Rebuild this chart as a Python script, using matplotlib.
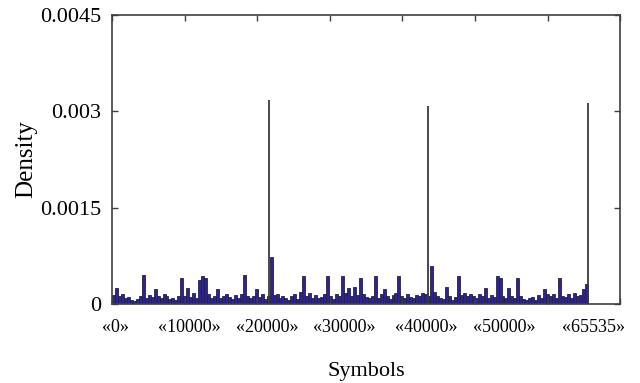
import numpy as np
import matplotlib
matplotlib.use("Agg")
import matplotlib.pyplot as plt

plt.rcParams['font.family'] = ['Liberation Serif', 'DejaVu Serif']

# histogram of symbols (density, in units of 1e-4), 160 bins over 0..65535
heights = [
    1.4, 2.5, 1.2, 1.5, 0.9, 1.1, 0.7, 0.5, 0.8, 1.3,
    4.6, 1.0, 1.4, 1.1, 2.4, 1.3, 0.9, 1.6, 1.2, 0.8,
    1.0, 0.6, 1.3, 4.1, 1.2, 2.5, 1.1, 1.7, 1.0, 3.8,
    4.4, 4.1, 1.5, 1.0, 1.3, 2.4, 0.9, 1.2, 1.6, 1.1,
    0.8, 1.4, 1.0, 1.5, 4.6, 1.2, 0.9, 1.3, 2.4, 1.1,
    1.5, 0.8, 1.2, 7.3, 1.4, 1.6, 0.9, 1.3, 1.0, 0.7,
    1.2, 1.5, 0.8, 1.9, 4.4, 1.3, 1.7, 1.0, 1.4, 0.9,
    1.1, 1.6, 4.4, 1.2, 0.8, 1.5, 1.3, 4.4, 1.8, 2.5,
    1.2, 2.7, 1.4, 4.0, 1.6, 1.1, 0.9, 1.3, 4.4, 1.0,
    1.5, 2.3, 1.2, 0.8, 1.4, 1.7, 4.4, 1.3, 1.0, 1.6,
    1.1, 0.9, 1.4, 1.2, 1.8, 1.5, 1.3, 6.0, 1.9, 1.2,
    1.0, 0.8, 2.7, 1.3, 0.7, 1.1, 4.4, 1.4, 1.7, 1.2,
    1.6, 1.3, 1.0, 1.5, 1.2, 2.5, 0.9, 1.4, 1.1, 4.4,
    4.0, 1.3, 1.0, 2.5, 1.2, 0.9, 4.0, 1.3, 0.8, 0.6,
    0.9, 1.1, 0.7, 1.4, 1.0, 2.3, 1.5, 1.2, 1.6, 1.0,
    4.0, 1.3, 1.1, 1.5, 0.9, 1.7, 1.2, 1.4, 2.3, 3.2,
]

# the three single symbols with a high density
spike_x = [21680, 43490, 65535]
spike_y = [0.00317, 0.00308, 0.00313]

ytick_vals = [0, 0.0015, 0.003, 0.0045]
ytick_labels = ['0', '0.0015', '0.003', '0.0045']
sym_labels = ['«0»', '«10000»', '«20000»', '«30000»', '«40000»', '«50000»', '«65535»']
sym_pos = [500, 10600, 21400, 32000, 43300, 54100, 66300]

heights = np.array(heights) * 1e-4
edges = np.linspace(0, 65536, len(heights) + 1)

fig = plt.figure(figsize=(6.4, 3.83), dpi=100)
ax = fig.add_axes([0.175, 0.206, 0.794, 0.755])

ax.bar(edges[:-1], heights, width=np.diff(edges), align='edge',
       color='#2f238f', edgecolor='#222244', linewidth=0.6)
ax.vlines(spike_x, 0, spike_y, color='#3a3a3a', linewidth=1.3)

ax.set_xlim(0, 70000)
ax.set_ylim(0, 0.0045)
ax.set_xticks(np.arange(0, 70001, 10000))
ax.set_xticklabels([])
ax.set_yticks(ytick_vals)
ax.set_yticklabels(ytick_labels, fontsize=16)
ax.tick_params(direction='in', top=True, right=True, length=4, width=1.0,
               color='#404040')
ax.tick_params(axis='y', pad=8)

for sp in ax.spines.values():
    sp.set_color('#404040')
    sp.set_linewidth(1.2)

for lab, pos in zip(sym_labels, sym_pos):
    ax.text(pos, -0.05, lab, transform=ax.get_xaxis_transform(),
            ha='center', va='top', fontsize=13)

ax.set_ylabel('Density', fontsize=18, labelpad=2)
ax.text(0.5, -0.2, 'Symbols', transform=ax.transAxes, ha='center', va='top',
        fontsize=16)

fig.savefig('out.png', dpi=100)
